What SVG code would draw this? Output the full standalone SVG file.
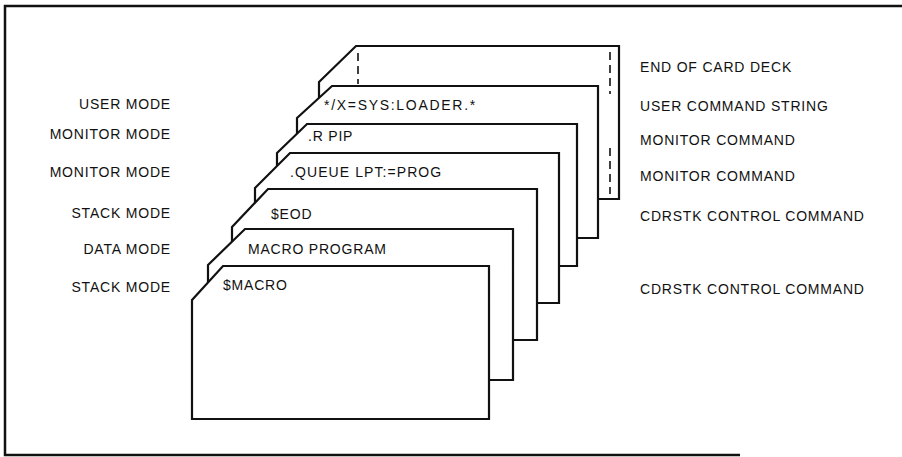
<svg xmlns="http://www.w3.org/2000/svg" width="902" height="457" viewBox="0 0 902 457">
<style>
.frame{fill:none;stroke:#111;stroke-width:2.5}
.card{fill:#fff;stroke:#111;stroke-width:2.2;stroke-linejoin:miter}
.dash{fill:none;stroke:#111;stroke-width:1.6;stroke-dasharray:8 5}
text{font-family:"Liberation Sans",Arial,sans-serif;font-size:14px;fill:#111;letter-spacing:0.8px}
.l{text-anchor:end}
</style>
<rect width="902" height="457" fill="#fff"/>
<g id="frame">
<path class="frame" d="M902,6 L5,6 L5,455 L740,455"/>
</g>
<g id="card-end">
<path class="card" d="M319,82 L356,46 L619,46 L619,199 L319,199 Z"/>
<path class="dash" d="M358,53 L358,84"/>
<path class="dash" d="M610,52 L610,94"/>
<path class="dash" d="M610,148 L610,194"/>
</g>
<g id="card-user">
<path class="card" d="M297,118 L332,86 L598,86 L598,238 L297,238 Z"/>
<text x="324" y="110" textLength="152" lengthAdjust="spacing">*/X=SYS:LOADER.*</text>
</g>
<g id="card-rpip">
<path class="card" d="M277,153 L307,124 L577,124 L577,266 L277,266 Z"/>
<text x="308" y="141">.R PIP</text>
</g>
<g id="card-queue">
<path class="card" d="M255,188 L290,153 L559,153 L559,303 L255,303 Z"/>
<text x="290" y="177" textLength="152" lengthAdjust="spacing">.QUEUE LPT:=PROG</text>
</g>
<g id="card-eod">
<path class="card" d="M232,227 L268,189 L537,189 L537,340 L232,340 Z"/>
<text x="271" y="219">$EOD</text>
</g>
<g id="card-program">
<path class="card" d="M208,265 L245,229 L513,229 L513,380 L208,380 Z"/>
<text x="248" y="254">MACRO  PROGRAM</text>
</g>
<g id="card-macro">
<path class="card" d="M192,300 L223,266 L489,266 L489,419 L192,419 Z"/>
<text x="223" y="290">$MACRO</text>
</g>
<g id="left-labels">
<text class="l" x="171" y="109">USER  MODE</text>
<text class="l" x="171" y="139">MONITOR  MODE</text>
<text class="l" x="171" y="177">MONITOR  MODE</text>
<text class="l" x="171" y="218">STACK  MODE</text>
<text class="l" x="171" y="254">DATA  MODE</text>
<text class="l" x="171" y="292">STACK  MODE</text>
</g>
<g id="right-labels">
<text x="640" y="72">END OF CARD DECK</text>
<text x="640" y="111">USER COMMAND STRING</text>
<text x="640" y="145">MONITOR COMMAND</text>
<text x="640" y="181">MONITOR COMMAND</text>
<text x="640" y="221">CDRSTK CONTROL COMMAND</text>
<text x="640" y="294">CDRSTK CONTROL COMMAND</text>
</g>
</svg>
